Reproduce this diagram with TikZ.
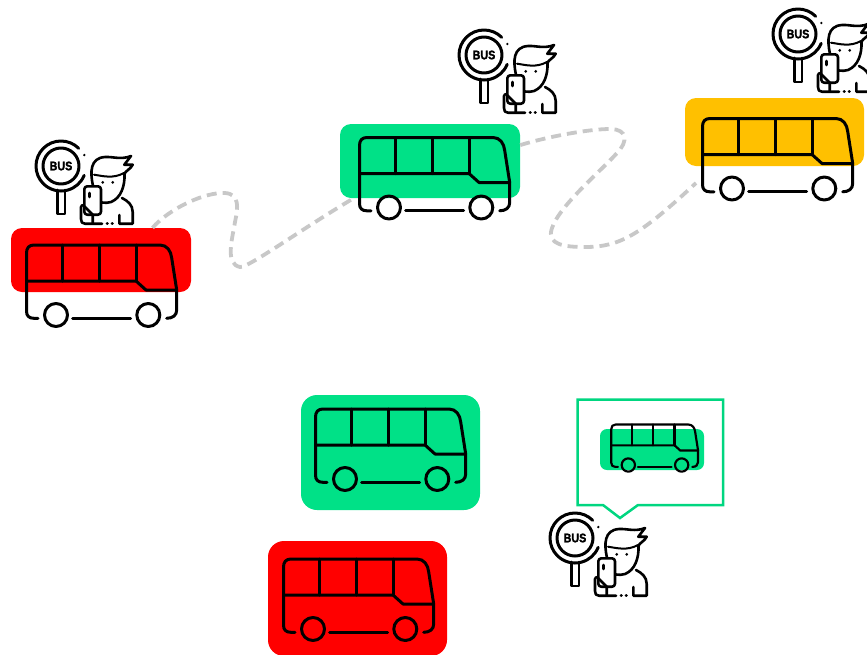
\documentclass[tikz,border=0pt]{standalone}
\usepackage{fontspec}
\setsansfont[BoldFeatures={FakeBold=1.5}]{Liberation Sans}
\usepackage{xcolor}
\usepackage{tikz}
\definecolor{cR}{HTML}{FF0000}
\definecolor{cG}{HTML}{00E187}
\definecolor{cY}{HTML}{FFC000}
\definecolor{cRoute}{HTML}{C8C8C8}
\tikzset{
  bgbox/.style={rectangle, inner sep=0pt, rounded corners=#1},
  bgbox/.default=11pt,
  busline/.style={draw=black, line join=round, line cap=round},
  iconline/.style={draw=black, line width=2.6pt, line join=round, line cap=round},
  ringline/.style={iconline, line width=3pt},
  routeline/.style={draw=cRoute, line width=3.8pt, dash pattern=on 10pt off 6pt},
  callout/.style={draw=cG!95!black, line width=2.5pt, miter limit=4},
  bustext/.style={font=\fontsize{12.5}{12.5}\selectfont\sffamily\bfseries, inner sep=0pt, xscale=.86},
}
% #1 = x of left wheel, #2 = y of wheels, #3 = scale
\newcommand{\busicon}[3]{\begin{scope}[shift={(#1,#2)}, x=#3pt, y=-#3pt, busline, line width=#3*2pt+1pt]
  \draw (-18,3.3) -- (-22,3.3) .. controls (-27,3.3) and (-29.5,1) .. (-29.5,-4) -- (-29.5,-62)
    .. controls (-29.5,-67) and (-27,-70) .. (-22,-70) -- (104,-70)
    .. controls (111,-70) and (115,-64) .. (115.7,-57) -- (120.7,-25) -- (120.7,-5)
    .. controls (120.7,0) and (117,3.3) .. (110.7,3.3);
  \draw (-29.5,-34) -- (80,-34) -- (90,-25) -- (120.7,-25);
  \foreach \xd in {6.7,43.3,80} {\draw (\xd,-70) -- (\xd,-34);}
  \draw (16.7,3.3) -- (74.7,3.3);
  \draw (0,0) circle[radius=11.5]; \draw (92.3,0) circle[radius=11.5];
\end{scope}}
% #1 = node name, #2/#3 = centre of the magnifier
\newcommand{\personicon}[3]{\begin{scope}[shift={(#2,#3)}]
  \draw[ringline] (-45:25) arc[start angle=-45, end angle=-338, radius=25];
  \draw[ringline] (0,0) circle[radius=18];
  \fill (23.3,-11) circle[radius=1.3];
  \draw[iconline] (-3.5,24) -- (-3.5,48) -- (4,48) -- (4,24);
  \node[bustext] (#1) at (0,0) {BUS};
  % hair and face
  \draw[iconline] (32,20) .. controls (29,6) and (29,-8) .. (44,-9)
    .. controls (52,-9.5) and (60,-6) .. (70,-10) -- (63.3,-1.3) -- (71.7,-1.3)
    .. controls (70,3) and (64,5) .. (63.5,8) .. controls (64,20) and (60,32) .. (50,36) .. controls (47,37) and (44,37) .. (41,36.5);
  \draw[iconline, line width=2pt] (33,8.7) .. controls (42,10) and (52,13) .. (63,7);
  \fill (41.7,16.3) circle[radius=1.5] (51.7,16.3) circle[radius=1.5];
  % shoulders and base line
  \draw[iconline] (61,32) .. controls (67,35) and (71.7,39) .. (71.7,46) -- (71.7,57.7) -- (58.3,57.7) -- (58.3,49);
  \draw[iconline] (51,57.7) -- (51.5,57.7) (46,57.7) -- (46.5,57.7);
  \draw[iconline] (41,57.7) -- (24,57.7) .. controls (21,57.7) and (20,56) .. (20,53) -- (20,41) .. controls (20,39.5) and (21.5,39) .. (23.3,39);
  % phone
  \draw[iconline, fill=white, rounded corners=3pt] (23.3,20.3) rectangle (40,48.7);
  \draw[iconline] (28.3,27) -- (28.3,31);
  \draw[iconline] (23.3,40.3) -- (31.7,48.7) -- (31.7,57);
\end{scope}}

\begin{document}
\begin{tikzpicture}[x=1pt, y=-1pt]
\useasboundingbox (0,0) rectangle (867,654);
% bus backgrounds
\node[bgbox, fill=cR, minimum width=180pt, minimum height=64pt] (redStop) at (101,260) {};
\node[bgbox, fill=cG, minimum width=180pt, minimum height=74pt] (greenStop) at (430,161) {};
\node[bgbox, fill=cY, minimum width=179pt, minimum height=68pt] (yellowStop) at (774.5,132) {};
\node[bgbox=16pt, fill=cG, minimum width=179pt, minimum height=115pt] (greenBus) at (390.5,452.5) {};
\node[bgbox=16pt, fill=cR, minimum width=179pt, minimum height=115pt] (redBus) at (357.5,598.5) {};
\node[bgbox=7pt, fill=cG, minimum width=104pt, minimum height=41pt] (smallBus) at (652,449.5) {};
\coordinate (yellowEnd) at (696,183);
% routes
\draw[routeline] (redStop.32) .. controls (170,208) and (205,192) .. (225,193)
  .. controls (240,194) and (238,208) .. (235,222) .. controls (232,240) and (225,264) .. (240,267)
  .. controls (248,268) and (300,230) .. (greenStop.206);
\draw[routeline] (greenStop.10) .. controls (550,136) and (590,129) .. (610,129)
  .. controls (628,129) and (628,142) .. (617,153) .. controls (600,172) and (560,205) .. (552,228)
  .. controls (546,245) and (565,247) .. (585,247) .. controls (620,247) and (640,235) .. (yellowEnd);
% buses
\busicon{56}{315}{1}
\busicon{389}{207.5}{1}
\busicon{732}{188.5}{1}
\busicon{345}{479}{1}
\busicon{313}{629}{1}
\busicon{628.3}{465}{.578}
% callout
\draw[callout] (577.7,399.5) -- (723,399.5) -- (723,505) -- (638,505) -- (620,518) -- (603,505) -- (577.7,505) -- cycle;
% people
\personicon{busSignA}{61}{166}
\personicon{busSignB}{484}{55}
\personicon{busSignC}{798}{34}
\personicon{busSignD}{575}{538}
\end{tikzpicture}
\end{document}
